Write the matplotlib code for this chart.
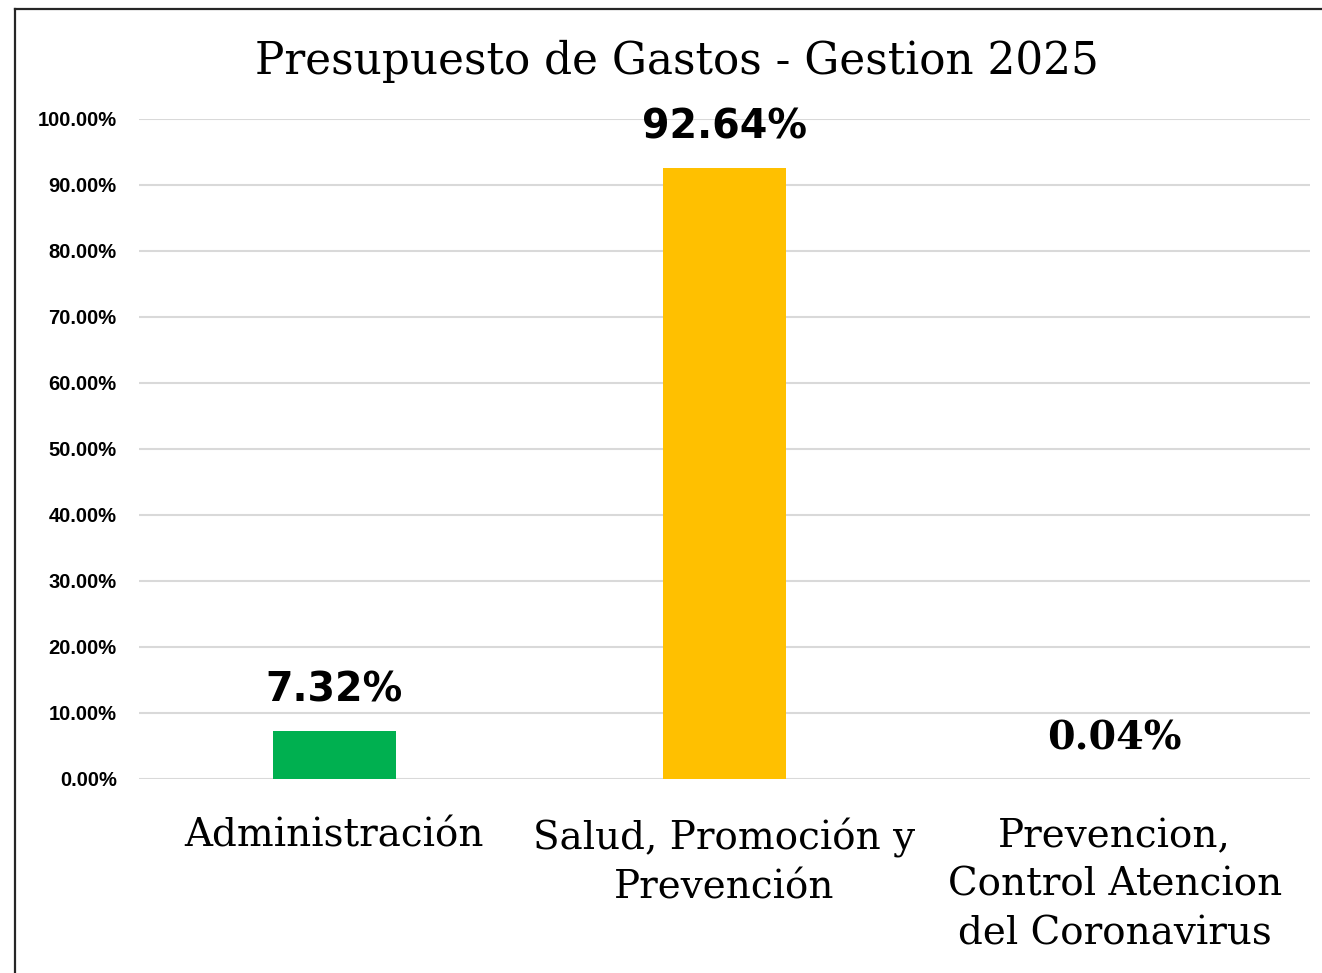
import matplotlib.pyplot as plt
from matplotlib.lines import Line2D
from matplotlib.ticker import PercentFormatter

categories = ["Administración", "Salud, Promoción y\nPrevención",
              "Prevencion,\nControl Atencion\ndel Coronavirus"]
values = [7.32, 92.64, 0.04]
value_labels = ["7.32%", "92.64%", "0.04%"]
bar_colors = ["#00B050", "#FFC000", "#5B9BD5"]
yticks = [0, 10, 20, 30, 40, 50, 60, 70, 80, 90, 100]

fig = plt.figure(figsize=(13.22, 9.73), dpi=100)
ax = fig.add_axes([0.1051, 0.1994, 0.8858, 0.6783])

x = range(len(categories))
ax.bar(x, values, width=0.315, color=bar_colors, zorder=3)

ax.set_xlim(-0.5, 2.5)
ax.set_ylim(0, 100)
ax.set_yticks(yticks)
ax.yaxis.set_major_formatter(PercentFormatter(decimals=2))
ax.grid(axis="y", color="#D9D9D9", linewidth=1.5, zorder=0)
ax.set_axisbelow(True)
for s in ax.spines.values():
    s.set_visible(False)
ax.tick_params(axis="y", length=0, pad=16)
ax.tick_params(axis="x", length=0, pad=28)
for lab in ax.get_yticklabels():
    lab.set_fontfamily("Liberation Sans")
    lab.set_fontweight("bold")
    lab.set_fontsize(14.5)

ax.set_xticks(list(x))
ax.set_xticklabels(categories, fontfamily="DejaVu Serif", fontsize=28,
                   linespacing=1.4, va="top")

# value labels
for i, (v, t) in enumerate(zip(values, value_labels)):
    fam = "DejaVu Serif" if i == 2 else "DejaVu Sans"
    ax.annotate(t, (i, v), xytext=(0, 29), textcoords="offset points",
                ha="center", va="center", fontsize=28.5, fontweight="bold",
                fontfamily=fam)

fig.text(0.512, 0.937, "Presupuesto de Gastos - Gestion 2025",
         ha="center", va="center", fontfamily="DejaVu Serif", fontsize=31.5)

# frame edges (left and top)
fig.add_artist(Line2D([0.0113, 0.0113], [0, 0.991], color="#262626", lw=1.6))
fig.add_artist(Line2D([0.0113, 1.0], [0.991, 0.991], color="#262626", lw=1.6))

fig.savefig("out.png", dpi=100, facecolor="white")
